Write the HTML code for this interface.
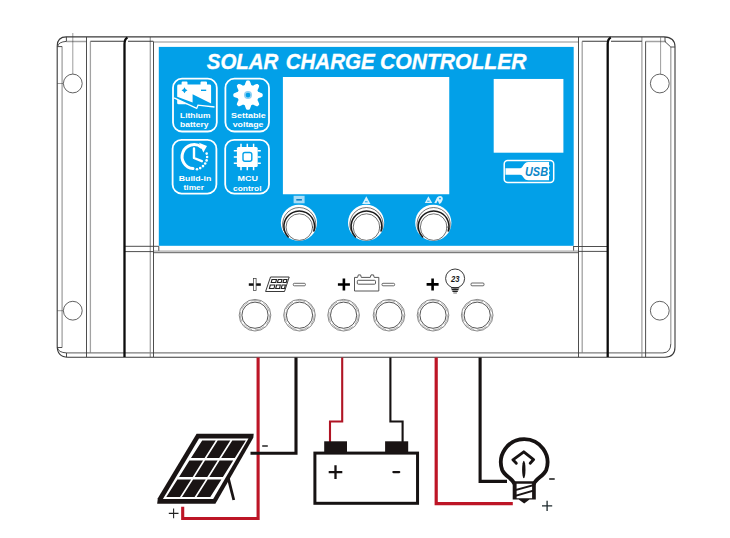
<!DOCTYPE html>
<html><head><meta charset="utf-8"><title>Solar Charge Controller</title>
<style>
html,body{margin:0;padding:0;background:#fff;}
body{width:730px;height:538px;overflow:hidden;}
svg{display:block;}
text{font-family:"Liberation Sans",sans-serif;}
</style></head><body>
<svg width="730" height="538" viewBox="0 0 730 538">
<rect width="730" height="538" fill="#fff"/>
<g fill="none" stroke="#a2a2a2" stroke-width="1.3">
<path d="M66.4 41.5 H86.5 M645.6 41.5 H666"/>
<path d="M153.3 42 H578.5" stroke-width="1.6" stroke="#b4b4b4"/>
<path d="M62.1 46.6 V347.5 M90.4 41.5 V353 M150.3 37 V357 M582.2 41.5 V353 M641.9 37 V357 M670.8 47 V344"/>
<path d="M66.5 352.9 H663" stroke="#7c7c7c"/>
<path d="M153.3 251.3 H578.5" stroke-width="2" stroke="#c4c4c4"/>
</g>
<g fill="none" stroke="#3a3a3a" stroke-width="0.9">
<path d="M57.2 46 Q57.2 36.9 66.4 36.9 H664 Q675 37.5 675 46.5 V347 Q675 357.2 665 357.2 H68 Q57.2 357.2 57.2 346 Z" stroke-width="1.1"/>
<path d="M66.4 36.9 V41.4 M66.4 41.4 Q58.5 41.8 57.6 46.6 H62.1 M62.1 347.5 H57.3 Q58.4 352.6 66.5 352.9 V357.2 M663 352.9 Q670.6 352.6 670.8 344 M670.8 47 L665 41.6 M665 37 V41.6 M670.8 47 H675"/>
<path d="M86.5 37 V357 M153.5 41.5 V357"/>
<path d="M90.4 41.2 H124 M128 41.2 H153.3 M582.2 41.2 H607 M611 41.2 H641.9" stroke-width="1.1"/>
<path d="M578.5 37 V357 M645.6 41.5 V357"/>
<path d="M124.4 246.3 H158.8 V250.8 M124.4 251.6 H153.3 M578.5 246.5 H607.6 M578.5 251.4 H607.6 M573.6 246 V250.6 M573.6 246.5 H578.5"/>
<path d="M153.5 252.7 H578.5" stroke-width="0.8"/>
<path d="M72.8 33 V74 M57.2 83.5 H63.4 M660.6 37.3 V74 M57.2 310.7 H63.4" stroke-width="0.5"/>
</g>
<path d="M127.5 37.5 Q124.5 39 124.5 44 V357 M610.8 37.5 Q607.7 39 607.7 44 V357" fill="none" stroke="#0c0c0c" stroke-width="2.3"/>
<g fill="#fff" stroke="#3a3a3a" stroke-width="0.8">
<circle cx="72.8" cy="83.5" r="9.4"/><circle cx="659.8" cy="83.5" r="9.4"/>
<circle cx="72.8" cy="310.7" r="9.4"/><circle cx="659.8" cy="310.7" r="9.4"/>
</g>
<rect x="158.8" y="46.9" width="414.9" height="198.9" fill="#02a0e8"/>
<g font-size="21.6" font-weight="bold" font-style="italic" fill="#fff" stroke="#fff" stroke-width="0.35">
<text x="206.8" y="69.3" textLength="71.5" lengthAdjust="spacingAndGlyphs">SOLAR</text>
<text x="285.7" y="69.3" textLength="89" lengthAdjust="spacingAndGlyphs">CHARGE</text>
<text x="380" y="69.3" textLength="146.5" lengthAdjust="spacingAndGlyphs">CONTROLLER</text>
</g>
<rect x="282.9" y="77" width="166.35" height="117.25" fill="#fff"/>
<rect x="493.7" y="78.95" width="69.7" height="73.75" fill="#fff"/>
<g fill="none" stroke="#fff" stroke-width="1.8">
<rect x="173" y="78.7" width="43.8" height="52.8" rx="9"/>
<rect x="225.4" y="78.7" width="43.6" height="52.8" rx="9"/>
<rect x="172.6" y="139.8" width="43.8" height="53.8" rx="9"/>
<rect x="225.2" y="139.8" width="43.8" height="53.8" rx="9"/>
</g>
<g fill="#fff" font-weight="bold" font-size="7.8" text-anchor="middle">
<text x="195.2" y="117.8" textLength="30.3" lengthAdjust="spacingAndGlyphs">Lithium</text>
<text x="194.3" y="126.5" textLength="28.5" lengthAdjust="spacingAndGlyphs">battery</text>
<text x="248.4" y="118.3" textLength="35" lengthAdjust="spacingAndGlyphs">Settable</text>
<text x="248.1" y="126.9" textLength="30.8" lengthAdjust="spacingAndGlyphs">voltage</text>
<text x="195" y="181" textLength="32.5" lengthAdjust="spacingAndGlyphs">Build-in</text>
<text x="193.8" y="189.7" textLength="20.4" lengthAdjust="spacingAndGlyphs">timer</text>
<text x="247.8" y="180.8" textLength="20.4" lengthAdjust="spacingAndGlyphs">MCU</text>
<text x="247.3" y="190.6" textLength="28.5" lengthAdjust="spacingAndGlyphs">control</text>
</g>
<g>
<path d="M177.2 86 Q177.2 84.6 178.6 84.6 H181.6 V82.5 Q181.6 81.5 182.6 81.5 H186.5 Q187.5 81.5 187.5 82.5 V84.6 H200.5 V82.5 Q200.5 81.5 201.5 81.5 H206 Q207 81.5 207 82.5 V84.6 H209.7 Q211.1 84.6 211.1 86 V103.5 L192.6 94.2 V102.4 L177.2 96.8 Z" fill="#fff"/>
<path d="M177.2 99.6 L187.9 104.2 H178.5 Q177.2 104.2 177.2 103 Z" fill="#fff"/>
<path d="M174.1 97.8 L196.7 108.4 L198 105.2 L214.5 107" fill="none" stroke="#fff" stroke-width="1.3"/>
<path d="M184.5 87.3 L185.6 89.2 L187.5 90.3 L185.6 91.4 L184.5 93.3 L183.4 91.4 L181.5 90.3 L183.4 89.2Z" fill="#02a0e8"/>
<rect x="201" y="89.6" width="5.2" height="1.4" fill="#02a0e8"/>
</g>
<path d="M248 80.4 L248.58 80.41 L249.15 80.45 L249.66 81.04 L250.1 81.82 L250.47 82.69 L250.77 83.57 L251.02 84.37 L251.28 85.02 L251.67 85.16 L252.06 85.31 L252.44 85.47 L252.81 85.66 L253.45 85.38 L254.2 84.99 L255.03 84.58 L255.9 84.23 L256.76 83.98 L257.55 83.92 L257.98 84.31 L258.39 84.71 L258.79 85.12 L259.18 85.55 L259.12 86.34 L258.87 87.2 L258.52 88.07 L258.11 88.9 L257.72 89.65 L257.44 90.29 L257.63 90.66 L257.79 91.04 L257.94 91.43 L258.08 91.82 L258.73 92.08 L259.53 92.33 L260.41 92.63 L261.28 93 L262.06 93.44 L262.65 93.95 L262.69 94.52 L262.7 95.1 L262.69 95.68 L262.65 96.25 L262.06 96.76 L261.28 97.2 L260.41 97.57 L259.53 97.87 L258.73 98.12 L258.08 98.38 L257.94 98.77 L257.79 99.16 L257.63 99.54 L257.44 99.91 L257.72 100.55 L258.11 101.3 L258.52 102.13 L258.87 103 L259.12 103.86 L259.18 104.65 L258.79 105.08 L258.39 105.49 L257.98 105.89 L257.55 106.28 L256.76 106.22 L255.9 105.97 L255.03 105.62 L254.2 105.21 L253.45 104.82 L252.81 104.54 L252.44 104.73 L252.06 104.89 L251.67 105.04 L251.28 105.18 L251.02 105.83 L250.77 106.63 L250.47 107.51 L250.1 108.38 L249.66 109.16 L249.15 109.75 L248.58 109.79 L248 109.8 L247.42 109.79 L246.85 109.75 L246.34 109.16 L245.9 108.38 L245.53 107.51 L245.23 106.63 L244.98 105.83 L244.72 105.18 L244.33 105.04 L243.94 104.89 L243.56 104.73 L243.19 104.54 L242.55 104.82 L241.8 105.21 L240.97 105.62 L240.1 105.97 L239.24 106.22 L238.45 106.28 L238.02 105.89 L237.61 105.49 L237.21 105.08 L236.82 104.65 L236.88 103.86 L237.13 103 L237.48 102.13 L237.89 101.3 L238.28 100.55 L238.56 99.91 L238.37 99.54 L238.21 99.16 L238.06 98.77 L237.92 98.38 L237.27 98.12 L236.47 97.87 L235.59 97.57 L234.72 97.2 L233.94 96.76 L233.35 96.25 L233.31 95.68 L233.3 95.1 L233.31 94.52 L233.35 93.95 L233.94 93.44 L234.72 93 L235.59 92.63 L236.47 92.33 L237.27 92.08 L237.92 91.82 L238.06 91.43 L238.21 91.04 L238.37 90.66 L238.56 90.29 L238.28 89.65 L237.89 88.9 L237.48 88.07 L237.13 87.2 L236.88 86.34 L236.82 85.55 L237.21 85.12 L237.61 84.71 L238.02 84.31 L238.45 83.92 L239.24 83.98 L240.1 84.23 L240.97 84.58 L241.8 84.99 L242.55 85.38 L243.19 85.66 L243.56 85.47 L243.94 85.31 L244.33 85.16 L244.72 85.02 L244.98 84.37 L245.23 83.57 L245.53 82.69 L245.9 81.82 L246.34 81.04 L246.85 80.45 L247.42 80.41Z" fill="#fff"/>
<circle cx="248" cy="95.1" r="4" fill="#8fd0f4"/><circle cx="248" cy="95.1" r="2.4" fill="#02a0e8"/>
<g fill="none" stroke="#fff" stroke-width="3" stroke-linecap="round">
<path d="M201.5 147.2 A12 12 0 1 0 193 168.6"/>
<path d="M194 148.5 V158 L201.8 161.2" stroke-width="2.4" stroke-linejoin="round"/>
</g>
<path d="M199 142.8 L207 146 L203.4 152.5Z" fill="#fff"/>
<g fill="#fff"><circle cx="206.7" cy="153.6" r="1.3"/><circle cx="207.1" cy="157" r="1.3"/><circle cx="206.6" cy="160.4" r="1.3"/><circle cx="205.2" cy="163.5" r="1.3"/><circle cx="203" cy="166.1" r="1.3"/><circle cx="200.2" cy="168.1" r="1.3"/><circle cx="197" cy="169.2" r="1.3"/></g>
<g>
<rect x="236.9" y="146.9" width="20.8" height="20.1" rx="1.5" fill="#fff"/>
<g stroke="#fff" stroke-width="1.5" fill="none">
<path d="M241 143.8 V147 M247.3 143.8 V147 M253.6 143.8 V147 M241 167 V170.2 M247.3 167 V170.2 M253.6 167 V170.2"/>
<path d="M233.8 150.8 H237 M233.8 157 H237 M233.8 163.2 H237 M257.6 150.8 H260.8 M257.6 157 H260.8 M257.6 163.2 H260.8"/>
</g>
<rect x="243" y="152.5" width="8.8" height="8.8" rx="2" fill="#fff" stroke="#02a0e8" stroke-width="1.4"/>
</g>
<g>
<rect x="504.2" y="160.4" width="49.5" height="22.2" rx="3.5" fill="none" stroke="#fff" stroke-width="1.5"/>
<path d="M505.5 168.2 H520 C523.5 168.2 523 162 528.5 162 H549 V180.2 H528.5 C523 180.2 523.5 174.7 520 174.7 H505.5Z" fill="#fff"/>
<text x="536.5" y="175.9" text-anchor="middle" font-size="12.8" font-weight="bold" font-style="italic" fill="#0a86c8" textLength="23" lengthAdjust="spacingAndGlyphs">USB</text>
<path d="M548.8 165 v2 M548.8 169.5 v2.5 M548.8 174 v2" stroke="#fff" stroke-width="1.4" fill="none"/>
</g>
<g fill="#d9f1fc">
<rect x="293.6" y="195.8" width="11" height="7.5" fill="#a9dcf6"/>
<path d="M366.3 196.3 L370.5 203.9 H362.1Z"/>
<path d="M428.4 196.3 L432.2 203 H424.8Z"/>
<path d="M434.3 203 L437 197.5 Q439 195.8 441.2 196.2 Q443.4 197.2 442.6 200 Q441.5 203.5 439.2 203.9 L437.8 200.5 L436.3 203.2Z"/>
</g>
<path d="M365 201.8 H367.6 M427.2 201.2 H429.6" stroke="#02a0e8" stroke-width="0.9" fill="none"/>
<circle cx="440" cy="198.6" r="0.9" fill="#02a0e8"/>
<rect x="296.3" y="199" width="5.6" height="1.6" fill="#0a7fc4"/>
<g>
<circle cx="298.9" cy="222.8" r="18.1" fill="#fff"/>
<g fill="none" stroke="#1a1a1a" stroke-linecap="round">
<path d="M283.8 230.7 A16.7 16.7 0 1 1 314.6 230.7" stroke-width="0.7" stroke="#333"/>
<path d="M288.3 237 A15.3 15.3 0 1 1 313.8 231" stroke-width="1.5"/>
<circle cx="299.3" cy="227.1" r="13.3" stroke-width="0.7" stroke="#333"/>
</g></g>
<g>
<circle cx="366.1" cy="222.8" r="18.1" fill="#fff"/>
<g fill="none" stroke="#1a1a1a" stroke-linecap="round">
<path d="M351 230.7 A16.7 16.7 0 1 1 381.8 230.7" stroke-width="0.7" stroke="#333"/>
<path d="M355.5 237 A15.3 15.3 0 1 1 381 231" stroke-width="1.5"/>
<circle cx="366.5" cy="227.1" r="13.3" stroke-width="0.7" stroke="#333"/>
</g></g>
<g>
<circle cx="433.3" cy="222.8" r="18.1" fill="#fff"/>
<g fill="none" stroke="#1a1a1a" stroke-linecap="round">
<path d="M418.2 230.7 A16.7 16.7 0 1 1 449 230.7" stroke-width="0.7" stroke="#333"/>
<path d="M422.7 237 A15.3 15.3 0 1 1 448.2 231" stroke-width="1.5"/>
<circle cx="433.7" cy="227.1" r="13.3" stroke-width="0.7" stroke="#333"/>
</g></g>
<g fill="none" stroke="#2a2a2a" stroke-width="0.65">
<circle cx="255" cy="315.2" r="15.8" stroke-width="0.55"/><circle cx="255" cy="315.2" r="14.7" stroke="#8a8a8a" stroke-dasharray="10 3"/><circle cx="255" cy="315.2" r="13.1" stroke-width="0.8"/>
<circle cx="299.5" cy="315.2" r="15.8" stroke-width="0.55"/><circle cx="299.5" cy="315.2" r="14.7" stroke="#8a8a8a" stroke-dasharray="10 3"/><circle cx="299.5" cy="315.2" r="13.1" stroke-width="0.8"/>
<circle cx="343.6" cy="315.2" r="15.8" stroke-width="0.55"/><circle cx="343.6" cy="315.2" r="14.7" stroke="#8a8a8a" stroke-dasharray="10 3"/><circle cx="343.6" cy="315.2" r="13.1" stroke-width="0.8"/>
<circle cx="389" cy="315.2" r="15.8" stroke-width="0.55"/><circle cx="389" cy="315.2" r="14.7" stroke="#8a8a8a" stroke-dasharray="10 3"/><circle cx="389" cy="315.2" r="13.1" stroke-width="0.8"/>
<circle cx="433" cy="315.2" r="15.8" stroke-width="0.55"/><circle cx="433" cy="315.2" r="14.7" stroke="#8a8a8a" stroke-dasharray="10 3"/><circle cx="433" cy="315.2" r="13.1" stroke-width="0.8"/>
<circle cx="477.2" cy="315.2" r="15.8" stroke-width="0.55"/><circle cx="477.2" cy="315.2" r="14.7" stroke="#8a8a8a" stroke-dasharray="10 3"/><circle cx="477.2" cy="315.2" r="13.1" stroke-width="0.8"/>
</g>
<g>
<rect x="248.8" y="283.3" width="12" height="2.5" fill="#111"/>
<rect x="253.5" y="278.4" width="2.6" height="12" fill="#fff" stroke="#333" stroke-width="0.7"/>
<path d="M337.9 284.5 H349.9 M343.9 278.5 V290.5" stroke="#000" stroke-width="2.6" fill="none"/>
<path d="M426.6 284.4 H438.6 M432.6 278.4 V290.4" stroke="#000" stroke-width="2.6" fill="none"/>
<g fill="#fff" stroke="#444" stroke-width="0.8">
<rect x="293.3" y="283.3" width="12.1" height="2.5" rx="1"/>
<rect x="382" y="283.3" width="12.6" height="2.5" rx="1"/>
<rect x="471" y="283" width="13" height="2.8" rx="1"/>
</g>
</g>
<g fill="none" stroke="#222" stroke-width="0.9">
<path d="M270.5 277 H289.2 L284.5 291.5 H265.6 Z"/>
<path d="M272 279.5 H276.5 L275.7 282.5 H271.2Z M278.3 279.5 H282 L281.2 282.5 H277.4Z M283.8 279.5 H287 L286.2 282.5 H283Z" stroke-width="1.1"/>
<path d="M270.3 285 H274.8 L274 288.5 H269.4Z M276.6 285 H280.3 L279.5 288.5 H275.7Z M282.1 285 H285.4 L284.5 288.5 H281.2Z" stroke-width="1.1"/>
</g>
<g fill="none" stroke="#444" stroke-width="0.9">
<path d="M354.5 277.4 H357.6 L358.3 274.9 H360.6 L361.3 277.4 H370.3 L371 274.9 H373.5 L374.2 277.4 H378.8 V291 H354.5Z"/>
<rect x="357.3" y="280.3" width="18.2" height="3.9" rx="1"/>
</g>
<g fill="none" stroke="#222" stroke-width="0.9">
<circle cx="455.1" cy="278.5" r="9.5"/>
<path d="M451 287.8 H459.2 M451.6 289.6 H458.6 M452.4 291.4 H457.8" stroke-width="1.2"/>
<path d="M453.3 293 H456.9" stroke="#888" stroke-width="1.2"/>
</g>
<text x="455.3" y="281.7" text-anchor="middle" font-size="8.5" font-style="italic" font-weight="bold" fill="#1a1a1a" textLength="8.5" lengthAdjust="spacingAndGlyphs">23</text>
<g fill="none" stroke-linejoin="miter">
<path d="M258.1 357.5 V518.5 H182.7 V506.7" stroke="#bd1526" stroke-width="3.1"/>
<path d="M296 357.5 V453.2 H250.5" stroke="#161212" stroke-width="3.1"/>
<path d="M342.2 357.5 V421.5 H330 V442" stroke="#b01424" stroke-width="2.1"/>
<path d="M390.4 357.5 V421.5 H402.6 V442" stroke="#161212" stroke-width="2.1"/>
<path d="M436.2 357.5 V503.6 H512.8" stroke="#bd1526" stroke-width="3.2"/>
<path d="M480.1 357.5 V481.4 H507" stroke="#161212" stroke-width="3.1"/>
</g>
<g>
<path d="M227.9 476.6 L233.8 500" stroke="#1a1414" stroke-width="2.8" fill="none"/>
<path d="M196.6 433.7 H253.7 L253.3 437.8 L215.4 503.7 H157.2 L157.8 498.2Z" fill="#1a1414"/>
<path d="M199 438.6 H248.5 L213.2 499.1 H162.9Z" fill="#fff"/>
<path d="M202.2 440.4 L215.7 440.4 L204.6 458 L191 458Z M217.7 440.4 L230.3 440.4 L219.2 458 L206.6 458Z M232.3 440.4 L245.8 440.4 L234.8 458 L221.2 458Z M189.4 460.6 L203 460.6 L192.7 476.9 L179.1 476.9Z M205 460.6 L217.6 460.6 L207.3 476.9 L194.7 476.9Z M219.6 460.6 L233.2 460.6 L222.9 476.9 L209.3 476.9Z M177.4 479.5 L191.1 479.5 L180 497.1 L166.3 497.1Z M193.1 479.5 L205.7 479.5 L194.6 497.1 L182 497.1Z M207.7 479.5 L221.4 479.5 L210.3 497.1 L196.6 497.1Z" fill="#1a1414"/>
</g>
<g>
<rect x="314.9" y="453.1" width="102.65" height="50.2" fill="#fff" stroke="#161212" stroke-width="3"/>
<rect x="324.2" y="441.3" width="22.8" height="11.7" fill="#1a1414"/>
<rect x="385.1" y="441.3" width="23.1" height="11.7" fill="#1a1414"/>
<path d="M328.7 472.1 H342.3 M335.5 465.3 V479" stroke="#161212" stroke-width="2.3" fill="none"/>
<path d="M393.4 472.1 H399.2" stroke="#161212" stroke-width="2.3" stroke-linecap="round" fill="none"/>
</g>
<g>
<path d="M514.6 484 C512 478 504.5 476 502.2 470 A23.3 23.3 0 1 1 546.2 470 C543.9 476 536.4 478 533.8 484Z" fill="#fff" stroke="#161212" stroke-width="3.8" stroke-linejoin="round"/>
<path d="M512.7 481.3 H535.8 V499.5 H529.5 L524.2 503.6 L518.7 499.5 H512.7Z" fill="#1a1414"/>
<path d="M516.6 483.7 H532.1 V484.5 L516.6 488.8Z M516.6 490.8 L532.1 486.4 V490 L516.6 494.5Z M516.6 496.4 L532.1 491.9 V498.2 H516.6Z" fill="#fff"/>
<path d="M516.3 463.2 L512.9 459.8 L523.8 451.8 L533.6 459.6 L530.2 463.2" fill="none" stroke="#161212" stroke-width="2.9" stroke-linejoin="round" stroke-linecap="round"/>
<ellipse cx="523.8" cy="469.5" rx="1.7" ry="8.8" fill="#161212"/>
</g>
<g stroke="#222" fill="none">
<path d="M168.8 513.4 H178.5 M173.6 508.5 V518.3" stroke-width="1.1"/>
<path d="M262.2 446 H267.8" stroke-width="1.5"/>
<path d="M549.2 479 H554.7" stroke-width="1.6"/>
<path d="M542 505.8 H552.2 M547.1 500.7 V510.9" stroke-width="1.3" stroke="#1e2a2e"/>
</g>
</svg>
</body></html>
